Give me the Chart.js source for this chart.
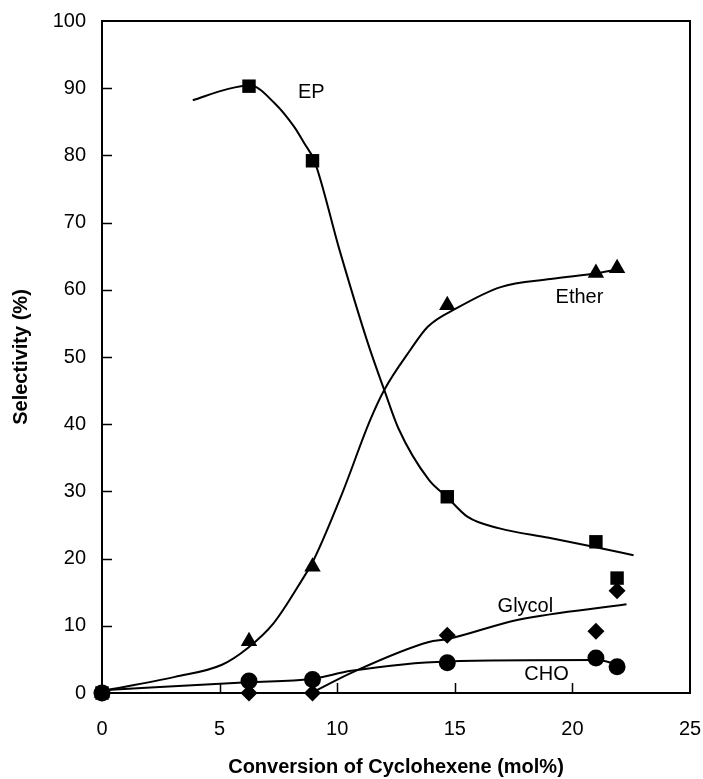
<!DOCTYPE html>
<html>
<head>
<meta charset="utf-8">
<script src="https://cdn.jsdelivr.net/npm/chart.js@4"></script>
<style>
  html, body { margin: 0; padding: 0; background: #fff; }
</style>
</head>
<body>
<canvas id="selChart" width="703" height="779"></canvas>
<script>
// measured points
const conversion = [0, 6.25, 8.95, 14.68, 21.0, 21.9];
const epSel = [0, 90.3, 79.2, 29.2, 22.5, 17.1];
const etherSel = [0, 7.7, 18.8, 57.7, 62.5, 63.2];
const glycolSel = [0, 0, 0, 8.6, 9.2, 15.2];
const choSel = [0, 1.8, 2.0, 4.5, 5.2, 3.9];

// hand-drawn trend curves
const epFitX = [3.86, 5.37, 6.3, 7.33, 8.18, 8.6, 9.03, 10.1, 11.3, 12.0, 12.6, 13.9, 14.66, 15.55, 16.9, 19.0, 21.0, 22.6];
const epFitY = [88.2, 89.9, 90.4, 87.8, 84.2, 81.8, 79.2, 65.9, 52.1, 45.1, 39.4, 31.7, 29.2, 26.2, 24.5, 23.1, 21.7, 20.5];
const etherFitX = [0, 3.1, 5.1, 6.2, 7.3, 8.5, 9.0, 10.2, 11.4, 12.0, 13.1, 13.85, 15.1, 16.95, 19.07, 21.1, 22.1];
const etherFitY = [0.3, 2.4, 4.2, 6.7, 10.4, 16.8, 19.8, 29.6, 40.6, 45.1, 51.0, 54.5, 57.3, 60.4, 61.6, 62.5, 63.1];
const glycolFitX = [8.9, 10.6, 13.9, 14.66, 17.7, 22.3];
const glycolFitY = [0, 3.0, 7.6, 8.0, 10.9, 13.2];
const choFitX = [0, 6.2, 8.9, 10.6, 14.66, 21.0, 21.9];
const choFitY = [0.4, 1.6, 2.1, 3.3, 4.7, 4.9, 4.3];

const xTicks = [0, 5, 10, 15, 20, 25];
const yTicks = [0, 10, 20, 30, 40, 50, 60, 70, 80, 90, 100];

const curveLabels = [
    { text: 'EP', x: 8.9, y: 89.3 },
    { text: 'Ether', x: 20.3, y: 58.8 },
    { text: 'Glycol', x: 18.0, y: 12.9 },
    { text: 'CHO', x: 18.9, y: 2.7 }
];

const fontFamily = '"Liberation Sans", Arial, Helvetica, sans-serif';

const toPts = (xs, ys) => xs.map((x, i) => ({ x: x, y: ys[i] }));

const markerSet = (label, ys, style, radius) => ({
    label: label,
    type: 'scatter',
    data: toPts(conversion, ys),
    pointStyle: style,
    pointRadius: radius,
    pointHoverRadius: radius,
    backgroundColor: '#000',
    borderColor: '#000',
    borderWidth: 0,
    showLine: false,
    clip: false,
    order: 0
});

const curveSet = (label, xs, ys) => ({
    label: label,
    type: 'line',
    data: toPts(xs, ys),
    borderColor: '#000',
    borderWidth: 2,
    pointRadius: 0,
    fill: false,
    cubicInterpolationMode: 'monotone',
    clip: false,
    order: 1
});

const frameAndTicks = {
    id: 'frameAndTicks',
    beforeDatasetsDraw(chart) {
        const { ctx, chartArea: { left, right, top, bottom }, scales: { x, y } } = chart;
        ctx.save();
        ctx.strokeStyle = '#000';
        ctx.lineWidth = 2;
        ctx.strokeRect(left, top, right - left, bottom - top);
        ctx.beginPath();
        x.ticks.forEach(t => {
            if (t.value <= 0 || t.value >= 25) return;
            const px = Math.round(x.getPixelForValue(t.value)) + 0.5;
            ctx.moveTo(px, bottom);
            ctx.lineTo(px, bottom - 10);
        });
        y.ticks.forEach(t => {
            if (t.value <= 0 || t.value >= 100) return;
            const py = Math.round(y.getPixelForValue(t.value)) + 0.5;
            ctx.moveTo(left, py);
            ctx.lineTo(left + 10, py);
        });
        ctx.lineWidth = 1.5;
        ctx.stroke();
        ctx.restore();
    },
    afterDraw(chart) {
        const { ctx, scales: { x, y } } = chart;
        ctx.save();
        ctx.font = `20px ${fontFamily}`;
        ctx.fillStyle = '#000';
        ctx.textAlign = 'center';
        ctx.textBaseline = 'middle';
        curveLabels.forEach(l => {
            ctx.fillText(l.text, x.getPixelForValue(l.x), y.getPixelForValue(l.y));
        });
        ctx.restore();
    }
};

const ctx = document.getElementById('selChart');

const selChart = new Chart(ctx, {
    type: 'scatter',
    data: {
        datasets: [
            markerSet('EP', epSel, 'rect', 9.5),
            markerSet('Ether', etherSel, 'triangle', 9.5),
            markerSet('Glycol', glycolSel, 'rectRot', 8.5),
            markerSet('CHO', choSel, 'circle', 8.5),
            curveSet('EP fit', epFitX, epFitY),
            curveSet('Ether fit', etherFitX, etherFitY),
            curveSet('Glycol fit', glycolFitX, glycolFitY),
            curveSet('CHO fit', choFitX, choFitY)
        ]
    },
    options: {
        responsive: false,
        animation: false,
        layout: { padding: { top: 21, right: 13, left: 0, bottom: 0 } },
        plugins: {
            legend: { display: false },
            tooltip: { enabled: false }
        },
        scales: {
            x: {
                type: 'linear',
                min: 0,
                max: 25,
                afterBuildTicks: (scale) => { scale.ticks = xTicks.map(v => ({ value: v })); },
                afterFit: (scale) => {
                    scale.height = 86;
                    scale.paddingLeft = 0;
                    scale.paddingRight = 0;
                },
                ticks: {
                    color: '#000',
                    padding: 24,
                    font: { family: fontFamily, size: 20 }
                },
                grid: { display: false, drawTicks: false },
                border: { display: false },
                title: {
                    display: true,
                    text: 'Conversion of Cyclohexene (mol%)',
                    color: '#000',
                    padding: { top: 0, bottom: 0 },
                    font: { family: fontFamily, size: 20, weight: 'bold' }
                }
            },
            y: {
                type: 'linear',
                min: 0,
                max: 100,
                afterBuildTicks: (scale) => { scale.ticks = yTicks.map(v => ({ value: v })); },
                afterFit: (scale) => {
                    scale.width = 102;
                    scale.paddingTop = 0;
                    scale.paddingBottom = 0;
                },
                ticks: {
                    color: '#000',
                    padding: 16,
                    font: { family: fontFamily, size: 20 }
                },
                grid: { display: false, drawTicks: false },
                border: { display: false },
                title: {
                    display: true,
                    text: 'Selectivity (%)',
                    color: '#000',
                    padding: { top: 9, bottom: 0 },
                    font: { family: fontFamily, size: 20, weight: 'bold' }
                }
            }
        }
    },
    plugins: [frameAndTicks]
});
</script>
</body>
</html>
